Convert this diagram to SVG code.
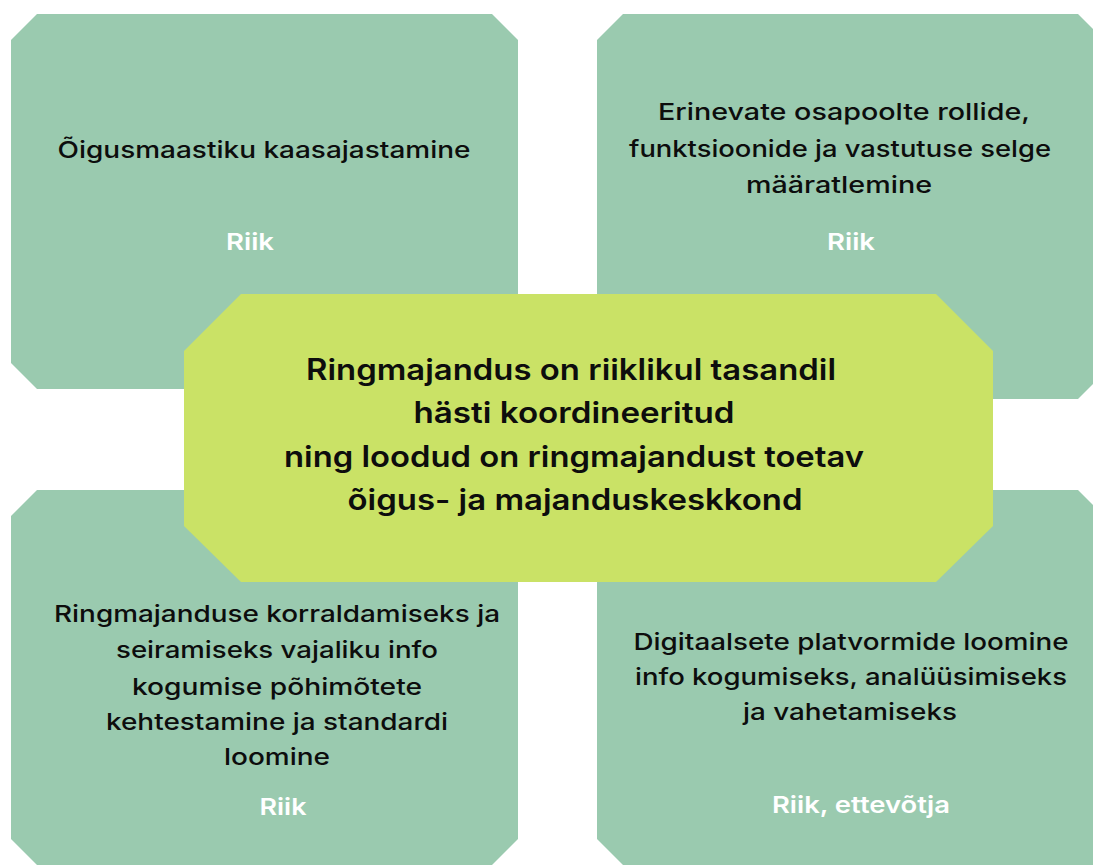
<svg xmlns="http://www.w3.org/2000/svg" width="1093" height="865" viewBox="0 0 1093 865">
<style>
.box{fill:#9ACAAF}
.core{fill:#CAE266}
.t{font-family:Inter,"Noto Sans","Liberation Sans",sans-serif;font-weight:500;font-size:23.5px;fill:#0d0d0d;text-anchor:middle}
.a{font-family:Inter,"Noto Sans","Liberation Sans",sans-serif;font-weight:600;font-size:23.5px;fill:#ffffff;text-anchor:middle}
.c{font-family:Inter,"Noto Sans","Liberation Sans",sans-serif;font-weight:600;font-size:29.5px;fill:#0d0d0d;text-anchor:middle}
</style>
<rect width="1093" height="865" fill="#ffffff"/>
<g id="node-tl">
<polygon class="box" points="37,14 492,14 518,40 518,389 37,389 11,363 11,40"/>
<text class="t" x="264" y="158" textLength="413" lengthAdjust="spacingAndGlyphs">Õigusmaastiku kaasajastamine</text>
<text class="a" x="250" y="250" textLength="48" lengthAdjust="spacingAndGlyphs">Riik</text>
</g>
<g id="node-tr">
<polygon class="box" points="623,14 1078,14 1104,40 1104,373 1078,399 597,399 597,40"/>
<text class="t" x="844" y="120" textLength="372" lengthAdjust="spacingAndGlyphs">Erinevate osapoolte rollide,</text>
<text class="t" x="840" y="157" textLength="422" lengthAdjust="spacingAndGlyphs">funktsioonide ja vastutuse selge</text>
<text class="t" x="839" y="193" textLength="186" lengthAdjust="spacingAndGlyphs">määratlemine</text>
<text class="a" x="851" y="250" textLength="48" lengthAdjust="spacingAndGlyphs">Riik</text>
</g>
<g id="node-bl">
<polygon class="box" points="37,490 518,490 518,839 492,865 37,865 11,839 11,516"/>
<text class="t" x="277" y="622" textLength="446" lengthAdjust="spacingAndGlyphs">Ringmajanduse korraldamiseks ja</text>
<text class="t" x="277" y="658" textLength="322" lengthAdjust="spacingAndGlyphs">seiramiseks vajaliku info</text>
<text class="t" x="277" y="695" textLength="290" lengthAdjust="spacingAndGlyphs">kogumise põhimõtete</text>
<text class="t" x="277" y="730" textLength="342" lengthAdjust="spacingAndGlyphs">kehtestamine ja standardi</text>
<text class="t" x="277" y="765" textLength="106" lengthAdjust="spacingAndGlyphs">loomine</text>
<text class="a" x="283" y="815" textLength="47" lengthAdjust="spacingAndGlyphs">Riik</text>
</g>
<g id="node-br">
<polygon class="box" points="597,490 1078,490 1104,516 1104,865 623,865 597,839"/>
<text class="t" x="851" y="650" textLength="435" lengthAdjust="spacingAndGlyphs">Digitaalsete platvormide loomine</text>
<text class="t" x="851" y="685" textLength="432" lengthAdjust="spacingAndGlyphs">info kogumiseks, analüüsimiseks</text>
<text class="t" x="850" y="720" textLength="214" lengthAdjust="spacingAndGlyphs">ja vahetamiseks</text>
<text class="a" x="861" y="813" textLength="178" lengthAdjust="spacingAndGlyphs">Riik, ettevõtja</text>
</g>
<g id="node-center">
<polygon class="core" points="241,294 936,294 993,351 993,526 936,582 241,582 184,526 184,351"/>
<text class="c" x="571" y="380" textLength="530" lengthAdjust="spacingAndGlyphs">Ringmajandus on riiklikul tasandil</text>
<text class="c" x="574" y="423" textLength="321" lengthAdjust="spacingAndGlyphs">hästi koordineeritud</text>
<text class="c" x="574" y="467" textLength="580" lengthAdjust="spacingAndGlyphs">ning loodud on ringmajandust toetav</text>
<text class="c" x="575" y="510" textLength="455" lengthAdjust="spacingAndGlyphs">õigus- ja majanduskeskkond</text>
</g>
<g id="connectors"></g>
</svg>
